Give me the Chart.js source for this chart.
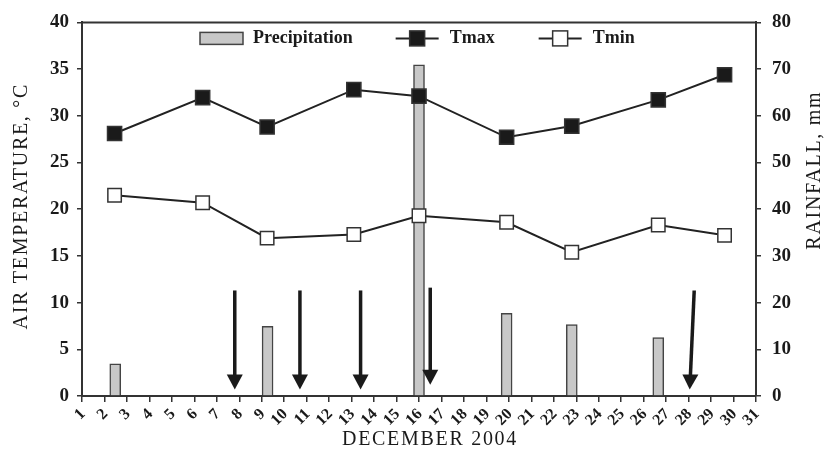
<!DOCTYPE html>
<html>
<head>
<meta charset="utf-8">
<script src="https://cdn.jsdelivr.net/npm/chart.js@4.4.1/dist/chart.umd.min.js"></script>
<style>
    html, body { margin: 0; padding: 0; background: #fff; }
</style>
</head>
<body>
<canvas id="myChart" width="828" height="464"></canvas>
<script>

// days (December 2004) at which temperature was read
const tempDays = [2.45, 6.37, 9.24, 13.1, 16.0, 19.9, 22.8, 26.65, 29.6];
const tmax = [28.1, 31.95, 28.8, 32.8, 32.1, 27.7, 28.9, 31.7, 34.4];
const tmin = [21.5, 20.7, 16.9, 17.3, 19.3, 18.6, 15.4, 18.3, 17.2];

// rainfall events
const rainDays = [2.48, 9.26, 16.0, 19.9, 22.8, 26.65];
const rainfall = [6.9, 14.9, 70.9, 17.7, 15.3, 12.5];

// arrows (day at top / day at tip, temperature at top / at tip)
const arrowDayTop = [7.8, 10.7, 13.4, 16.5, 28.25];
const arrowDayTip = [7.8, 10.7, 13.4, 16.5, 28.05];
const arrowFrom = [11.3, 11.3, 11.3, 11.6, 11.3];
const arrowTo = [0.7, 0.7, 0.7, 1.2, 0.7];

const dayLabels = ['1','2','3','4','5','6','7','8','9','10','11','12','13','14','15','16',
    '17','18','19','20','21','22','23','24','25','26','27','28','29','30','31'];

const serif = '"Liberation Serif", "Times New Roman", serif';
Chart.defaults.font.family = serif;
Chart.defaults.color = '#1a1a1a';

const ink = '#222';

const drawTitle = (ctx, text, x, y, rot) => {
    ctx.save();
    ctx.translate(x, y);
    ctx.rotate(rot);
    ctx.font = '20px ' + serif;
    ctx.letterSpacing = '1.7px';
    ctx.textAlign = 'center';
    ctx.textBaseline = 'middle';
    ctx.fillStyle = '#1a1a1a';
    ctx.fillText(text, 0, 0);
    ctx.restore();
};

const extras = {
    id: 'extras',
    afterDatasetsDraw(chart) {
        const { ctx, scales } = chart;
        const xs = scales.x, ys = scales.y;

        // arrows
        ctx.save();
        ctx.fillStyle = '#1a1a1a';
        ctx.strokeStyle = '#1a1a1a';
        arrowDayTop.forEach((d, i) => {
            const x1 = xs.getPixelForValue(d), y1 = ys.getPixelForValue(arrowFrom[i]);
            const x2 = xs.getPixelForValue(arrowDayTip[i]), y2 = ys.getPixelForValue(arrowTo[i]);
            const head = 15;
            const t = head / (y2 - y1);
            const bx = x2 - (x2 - x1) * t, by = y2 - head;
            ctx.lineWidth = 3.5;
            ctx.beginPath();
            ctx.moveTo(x1, y1);
            ctx.lineTo(bx, by + 1);
            ctx.stroke();
            ctx.beginPath();
            ctx.moveTo(bx - 8, by);
            ctx.lineTo(bx + 8, by);
            ctx.lineTo(x2, y2);
            ctx.closePath();
            ctx.fill();
        });
        ctx.restore();
    },
    afterDraw(chart) {
        const { ctx, chartArea } = chart;
        ctx.save();

        // top frame line
        ctx.strokeStyle = '#333';
        ctx.lineWidth = 2;
        ctx.beginPath();
        ctx.moveTo(chartArea.left, chartArea.top);
        ctx.lineTo(chartArea.right, chartArea.top);
        ctx.stroke();

        // legend
        const ly = chartArea.top + 16;
        ctx.font = 'bold 18px ' + serif;
        ctx.textBaseline = 'middle';
        ctx.textAlign = 'left';
        let x = chartArea.left + 118;

        ctx.fillStyle = '#c8c8c8';
        ctx.fillRect(x, ly - 6, 43, 12);
        ctx.strokeStyle = '#444';
        ctx.lineWidth = 1.5;
        ctx.strokeRect(x, ly - 6, 43, 12);
        x += 53;
        ctx.fillStyle = '#1a1a1a';
        ctx.fillText('Precipitation', x, ly);
        x += ctx.measureText('Precipitation').width + 43;

        [['Tmax', '#1a1a1a'], ['Tmin', '#fff']].forEach(([name, fill]) => {
            ctx.strokeStyle = ink;
            ctx.lineWidth = 2;
            ctx.beginPath();
            ctx.moveTo(x, ly);
            ctx.lineTo(x + 43, ly);
            ctx.stroke();
            ctx.fillStyle = fill;
            ctx.fillRect(x + 14, ly - 7.5, 15, 15);
            ctx.strokeStyle = '#333';
            ctx.lineWidth = 1.5;
            ctx.strokeRect(x + 14, ly - 7.5, 15, 15);
            x += 54;
            ctx.fillStyle = '#1a1a1a';
            ctx.fillText(name, x, ly);
            x += ctx.measureText(name).width + 44;
        });
        ctx.restore();

        // axis titles
        const midY = (chartArea.top + chartArea.bottom) / 2;
        drawTitle(ctx, 'AIR TEMPERATURE, °C', 22, midY - 3, -Math.PI / 2);
        drawTitle(ctx, 'RAINFALL, mm', chartArea.right + 59, midY - 39, -Math.PI / 2);
        drawTitle(ctx, 'DECEMBER 2004', (chartArea.left + chartArea.right) / 2 + 11, chartArea.bottom + 44, 0);
    }
};

const axisGrid = {
    drawOnChartArea: false,
    drawTicks: true,
    tickLength: 5,
    color: '#333',
    lineWidth: 1.5
};
const axisBorder = { color: '#333', width: 2 };

new Chart(document.getElementById('myChart'), {
    data: {
        datasets: [
            {
                type: 'line',
                label: 'Tmax',
                data: tempDays.map((d, i) => ({ x: d, y: tmax[i] })),
                borderColor: ink,
                borderWidth: 2,
                pointStyle: 'rect',
                pointRadius: 10,
                pointBackgroundColor: '#1a1a1a',
                pointBorderColor: '#333',
                pointBorderWidth: 1.5,
                yAxisID: 'y',
                order: 0
            },
            {
                type: 'line',
                label: 'Tmin',
                data: tempDays.map((d, i) => ({ x: d, y: tmin[i] })),
                borderColor: ink,
                borderWidth: 2,
                pointStyle: 'rect',
                pointRadius: 9.5,
                pointBackgroundColor: '#fff',
                pointBorderColor: '#333',
                pointBorderWidth: 1.5,
                yAxisID: 'y',
                order: 0
            },
            {
                type: 'bar',
                label: 'Precipitation',
                data: rainDays.map((d, i) => ({ x: d, y: rainfall[i] })),
                backgroundColor: '#c8c8c8',
                borderColor: '#444',
                borderWidth: 1.5,
                barThickness: 11,
                yAxisID: 'y1',
                order: 1
            }
        ]
    },
    options: {
        responsive: false,
        animation: false,
        layout: { padding: { top: 20, left: 0, right: 0, bottom: 0 } },
        plugins: {
            legend: { display: false },
            tooltip: { enabled: false }
        },
        scales: {
            x: {
                type: 'linear',
                min: 1,
                max: 31,
                offset: false,
                grid: { ...axisGrid, offset: false, tickLength: 6 },
                border: axisBorder,
                afterFit: (s) => { s.height = 68; },
                ticks: {
                    stepSize: 1,
                    autoSkip: false,
                    minRotation: 45,
                    maxRotation: 45,
                    padding: 3,
                    labelOffset: 1,
                    font: { size: 16, weight: 'bold' },
                    callback: (v) => dayLabels[v - 1]
                }
            },
            y: {
                position: 'left',
                min: 0,
                max: 40,
                grid: axisGrid,
                border: axisBorder,
                afterFit: (s) => { s.width = 82; },
                ticks: {
                    stepSize: 5,
                    padding: 8,
                    font: { size: 19, weight: 'bold' }
                }
            },
            y1: {
                position: 'right',
                min: 0,
                max: 80,
                grid: axisGrid,
                border: axisBorder,
                afterFit: (s) => { s.width = 72; },
                ticks: {
                    stepSize: 10,
                    padding: 11,
                    font: { size: 19, weight: 'bold' }
                }
            }
        }
    },
    plugins: [extras]
});

</script>
</body>
</html>
